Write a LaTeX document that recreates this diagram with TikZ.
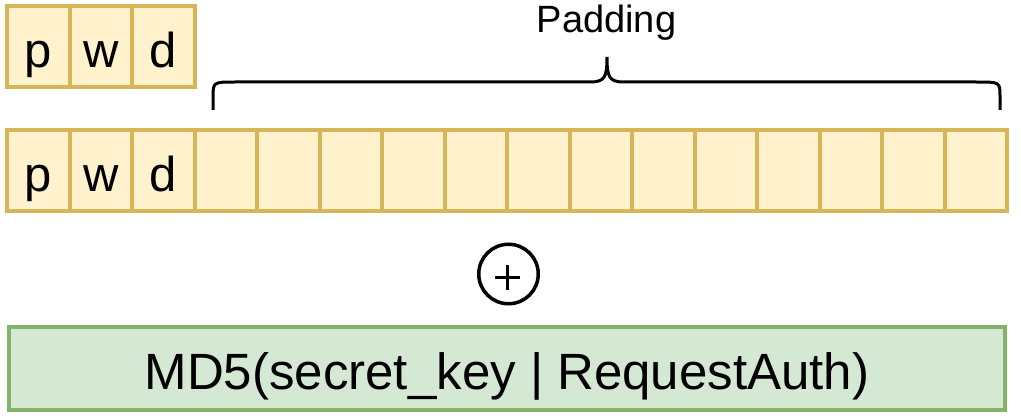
\documentclass[tikz,border=0pt]{standalone}
\usepackage{fontspec}
\setmainfont{Liberation Sans}
\usetikzlibrary{positioning}
\definecolor{padfill}{HTML}{FFF2CC}
\definecolor{paddraw}{HTML}{D6B656}
\definecolor{hashfill}{HTML}{D5E8D4}
\definecolor{hashdraw}{HTML}{82B366}
\tikzset{
  byte/.style={draw=paddraw,fill=padfill,line width=4pt,minimum width=62.5pt,minimum height=81pt,
    inner sep=0pt,text height=41pt,text depth=0pt,font=\fontsize{49}{49}\selectfont},
  hashbox/.style={draw=hashdraw,fill=hashfill,line width=4pt,minimum width=996pt,minimum height=83pt,
    inner sep=0pt,text height=41pt,text depth=0pt,font=\fontsize{51}{51}\selectfont}
}

\begin{document}
\begin{tikzpicture}[x=1pt,y=-1pt]
        \useasboundingbox (0,0) rectangle (1021,420);
        % the password as it is
        \foreach \ch/\i in {p/0,w/1,d/2}
            \node[byte] (pw\i) at (38.25+62.5*\i,47) {\ch};
        % the password after padding
        \foreach \ch/\i in {p/0,w/1,d/2}
            \node[byte] (blk\i) at (38.25+62.5*\i,170.5) {\ch};
        \foreach \i in {3,...,15}
            \node[byte] (blk\i) at (38.25+62.5*\i,170.5) {};
        \coordinate (padL) at (213,110);
        \coordinate (padR) at (1000,110);
        \coordinate (padTip) at (607,57);
        \draw[line width=3pt] (padL) -- ++(0,-12) .. controls (213,82) .. (235,82) -- (590,82)
            .. controls (605,82) and (607,77) .. (padTip)
            .. controls (607,77) and (609,82) .. (624,82) -- (976,82)
            .. controls (1000,82) .. (1000,96) -- (padR);
        \node[anchor=base,font=\fontsize{38}{38}\selectfont] (padlbl) at (606.5,33) {Padding};
        % xor with the hash
        \node[circle,draw,line width=3.5pt,minimum size=59.5pt,inner sep=0pt] (xor) at (508.5,274) {};
        \draw[line width=3.5pt] ([xshift=-13.5pt,yshift=-3.5pt]xor.center) -- ([xshift=11.5pt,yshift=-3.5pt]xor.center);
        \draw[line width=3.5pt] ([xshift=-1pt,yshift=9pt]xor.center) -- ([xshift=-1pt,yshift=-16pt]xor.center);
        \node[hashbox] (hash) at (507,368.5) {MD5(secret\_key | RequestAuth)};
\end{tikzpicture}
\end{document}
